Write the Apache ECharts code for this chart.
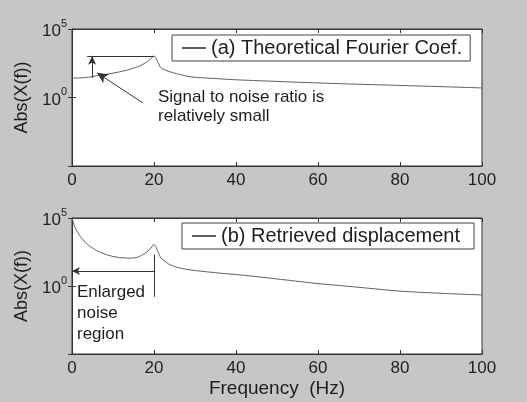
<!DOCTYPE html>
<html>
<head>
<meta charset="utf-8">
<script src="https://cdn.jsdelivr.net/npm/echarts@6/dist/echarts.min.js"></script>
<style>
  html, body { margin: 0; padding: 0; background: #c6c6c6; }
  #chart { width: 527px; height: 402px; }
</style>
</head>
<body>
<div id="chart"></div>
<script>
// (a) theoretical Fourier coefficient magnitude
const freqA = [0, 2, 4, 6, 8, 10, 12, 14, 16, 17, 18, 19, 20, 21, 21.5, 22, 23, 24, 26, 29, 35, 41, 50, 60, 70, 80, 90, 100];
const magA  = [26, 27, 30, 38, 48, 60, 79, 112, 174, 240, 355, 562, 1100, 355, 174, 126, 93, 74, 50, 32, 24, 19, 15, 11.5, 9.3, 7.6, 6.2, 5.0];

// (b) magnitude of the retrieved displacement spectrum
const freqB = [0, 0.5, 1, 1.5, 2, 3, 4, 5, 6, 8, 10, 12, 14, 15, 16, 17, 18, 19, 20, 21, 21.7, 23, 24, 26, 29, 35, 41, 47, 53, 60, 65, 70, 80, 90, 100];
const magB  = [100000, 31600, 14000, 7900, 4500, 2000, 1000, 630, 400, 224, 148, 120, 112, 115, 132, 178, 282, 500, 1120, 316, 115, 56, 35, 22, 15, 9.5, 6.5, 4.2, 2.6, 1.5, 1.1, 0.8, 0.42, 0.29, 0.22];

const nameA = '(a) Theoretical Fourier Coef.';
const nameB = '(b) Retrieved displacement';

// exponents that get a "10^n" label on the y axes
const labelledExps = [0, 5];

// annotation geometry in data units
const snrTop = 1100, snrBase = 27;
const snrArrowFrom = [17.3, 0.4], snrArrowTo = [6.1, 63];
const noiseLevel = 12.6, noiseBarTop = 200, noiseBarBottom = 0.16;

const FONT = 'Liberation Sans, Arial, sans-serif';
const INK = '#1e1e1e';
const LINE = '#5e5e5e';

function xAxes(gridIndex, withName) {
  const base = {
    type: 'value', gridIndex, min: 0, max: 100, interval: 20,
    axisLine: { show: true, lineStyle: { color: '#333', width: 1 } },
    axisTick: { show: true, inside: true, length: 4, lineStyle: { color: '#333' } },
    splitLine: { show: false }
  };
  const bottom = Object.assign({}, base, {
    position: 'bottom',
    axisLabel: { fontSize: 17, color: INK, fontFamily: FONT, margin: 6 }
  });
  if (withName) {
    Object.assign(bottom, {
      name: 'Frequency  (Hz)', nameLocation: 'middle', nameGap: 25,
      nameTextStyle: { fontSize: 19, color: INK, fontFamily: FONT }
    });
  }
  const top = Object.assign({}, base, { position: 'top', axisLabel: { show: false } });
  return [bottom, top];
}

function yAxes(gridIndex) {
  const base = {
    type: 'log', logBase: 10, gridIndex, min: 1e-5, max: 1e5,
    axisLine: { show: true, lineStyle: { color: '#333', width: 1 } },
    axisTick: { show: true, inside: true, length: 4, lineStyle: { color: '#333' } },
    splitLine: { show: false },
    minorTick: { show: false }
  };
  const left = Object.assign({}, base, {
    position: 'left',
    name: 'Abs(X(f))', nameLocation: 'middle', nameGap: 36,
    nameTextStyle: { fontSize: 18, color: INK, fontFamily: FONT },
    axisLabel: {
      margin: 5, color: INK, fontFamily: FONT,
      formatter: function (v) {
        const e = Math.round(Math.log10(v));
        if (labelledExps.indexOf(e) < 0) return '';
        return '{b|10}{s|' + e + '}';
      },
      rich: {
        b: { fontSize: 17, fontFamily: FONT, color: INK, lineHeight: 22, verticalAlign: 'bottom' },
        s: { fontSize: 11, fontFamily: FONT, color: INK, lineHeight: 22, verticalAlign: 'top' }
      }
    }
  });
  const right = Object.assign({}, base, { position: 'right', axisLabel: { show: false } });
  return [left, right];
}

function legendFor(name, left, top, rightPad) {
  return {
    data: [name], left, top, orient: 'horizontal',
    backgroundColor: '#fff', borderColor: '#444', borderWidth: 1,
    padding: [3, rightPad, 3, 10],
    itemWidth: 24, itemHeight: 2, icon: 'rect',
    textStyle: { fontSize: 20, color: INK, fontFamily: FONT },
    selectedMode: false
  };
}

const markStyle = { color: '#333', width: 1, type: 'solid' };

const option = {
  animation: false,
  backgroundColor: '#c6c6c6',
  grid: [
    { left: 72, top: 29, width: 410, height: 137, show: true, backgroundColor: '#fff', borderColor: '#333', borderWidth: 1 },
    { left: 72, top: 218, width: 410, height: 136, show: true, backgroundColor: '#fff', borderColor: '#333', borderWidth: 1 }
  ],
  xAxis: xAxes(0, false).concat(xAxes(1, true)),
  yAxis: yAxes(0).concat(yAxes(1)),
  legend: [legendFor(nameA, 172, 35, 8), legendFor(nameB, 182, 223, 14)],
  series: [
    {
      name: nameA, type: 'line', xAxisIndex: 0, yAxisIndex: 0,
      data: freqA.map((f, i) => [f, magA[i]]),
      symbol: 'none', smooth: 0.25,
      lineStyle: { color: LINE, width: 1 }, itemStyle: { color: LINE },
      markLine: {
        silent: true, symbol: 'none', lineStyle: markStyle, label: { show: false },
        data: [
          [{ coord: [3.7, snrTop] }, { coord: [20, snrTop] }],
          [{ coord: [4.9, snrBase] }, { coord: [4.9, snrTop], symbol: 'arrow', symbolSize: [6, 9] }],
          [{ coord: snrArrowFrom }, { coord: snrArrowTo, symbol: 'arrow', symbolSize: [8, 11] }]
        ]
      }
    },
    {
      name: nameB, type: 'line', xAxisIndex: 2, yAxisIndex: 2,
      data: freqB.map((f, i) => [f, magB[i]]),
      symbol: 'none', smooth: 0.25,
      lineStyle: { color: LINE, width: 1 }, itemStyle: { color: LINE },
      markLine: {
        silent: true, symbol: 'none', lineStyle: markStyle, label: { show: false },
        data: [
          [{ coord: [0, noiseLevel], symbol: 'arrow', symbolSize: [6, 8] }, { coord: [20, noiseLevel] }],
          [{ coord: [20, noiseBarTop] }, { coord: [20, noiseBarBottom] }]
        ]
      }
    }
  ],
  graphic: [
    {
      type: 'text', left: 158, top: 88,
      style: { text: 'Signal to noise ratio is\nrelatively small', fontSize: 17, lineHeight: 19, fill: INK, fontFamily: FONT }
    },
    {
      type: 'text', left: 77, top: 282,
      style: { text: 'Enlarged\nnoise\nregion', fontSize: 17, lineHeight: 21, fill: INK, fontFamily: FONT }
    }
  ]
};

const chart = echarts.init(document.getElementById('chart'), null, { renderer: 'canvas' });
chart.setOption(option);
</script>
</body>
</html>
